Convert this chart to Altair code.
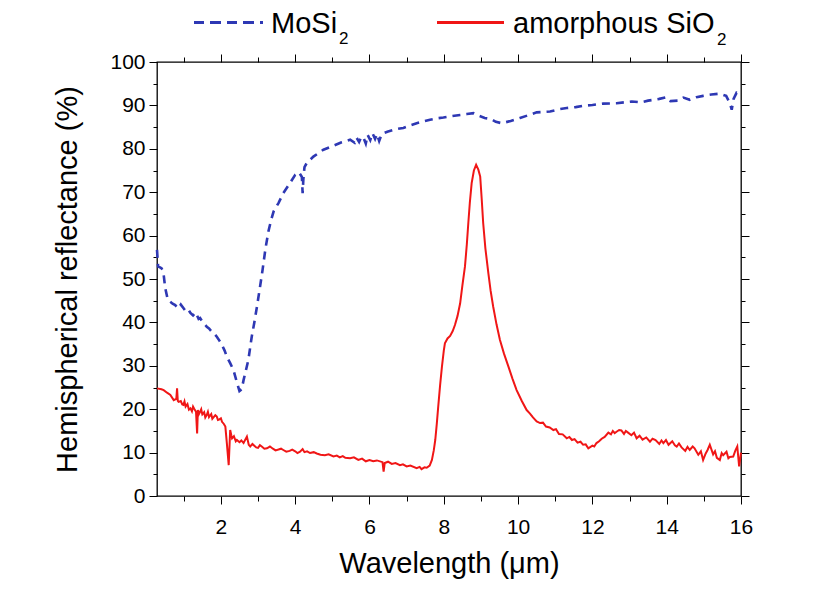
import altair as alt
import pandas as pd

# ---- data ----
mosi_wl = [0.28, 0.31, 0.40, 0.45, 0.50, 0.57, 0.70, 0.77, 0.85, 0.92, 0.99, 1.05, 1.12, 1.18,
           1.25, 1.32, 1.40, 1.44, 1.50, 1.56, 1.62, 1.68, 1.75, 1.82, 1.89, 1.96, 2.03, 2.10,
           2.16, 2.25, 2.34, 2.42, 2.50, 2.56, 2.61, 2.68, 2.74, 2.83, 2.90, 2.97, 3.05, 3.12,
           3.20, 3.28, 3.35, 3.42, 3.55, 3.68, 3.86, 4.00, 4.10, 4.18, 4.20, 4.22, 4.25, 4.31,
           4.49, 4.76, 5.03, 5.25, 5.48, 5.60, 5.65, 5.72, 5.78, 5.84, 5.90, 5.95, 6.02, 6.08,
           6.15, 6.20, 6.26, 6.32, 6.37, 6.50, 6.70, 6.91, 7.10, 7.27, 7.45, 7.63, 7.80, 7.99,
           8.20, 8.44, 8.62, 8.80, 8.95, 9.10, 9.26, 9.40, 9.56, 9.80, 10.05, 10.30, 10.50,
           10.86, 11.10, 11.31, 11.55, 11.75, 12.00, 12.29, 12.65, 13.06, 13.30, 13.50, 13.80,
           14.00, 14.10, 14.31, 14.45, 14.62, 14.80, 14.98, 15.20, 15.43, 15.60, 15.70, 15.75,
           15.80, 15.88, 16.00]
mosi_r = [56.7, 52.9, 52.5, 51.7, 48.0, 45.2, 44.3, 44.0, 43.2, 44.1, 43.3, 42.6, 43.0, 42.2,
          41.6, 42.3, 40.8, 41.0, 40.2, 39.6, 39.0, 38.6, 37.9, 37.4, 36.7, 35.8, 34.8, 33.5,
          32.1, 30.6, 29.0, 26.5, 24.2, 24.6, 26.7, 29.2, 31.4, 36.7, 40.0, 43.6, 48.0, 52.0,
          57.0, 61.0, 63.5, 65.6, 67.5, 69.8, 72.1, 74.0, 74.6, 73.5, 69.8, 73.0, 75.8, 76.7,
          78.2, 79.8, 80.7, 81.5, 82.1, 81.4, 82.6, 81.6, 82.8, 82.5, 81.2, 83.2, 82.0, 83.6,
          82.3, 83.4, 81.8, 83.2, 83.6, 84.0, 84.5, 84.8, 85.4, 85.9, 86.3, 86.7, 87.0, 87.2,
          87.5, 87.8, 88.0, 88.2, 87.6, 87.1, 86.9, 86.2, 85.9, 86.4, 87.1, 87.8, 88.4,
          88.6, 89.1, 89.4, 89.6, 89.9, 90.1, 90.4, 90.5, 90.9, 90.7, 91.1, 91.5,
          91.9, 91.0, 91.1, 91.8, 91.3, 91.9, 92.2, 92.5, 92.7, 92.2, 90.5, 89.0,
          91.5, 92.9, 92.4]

sio2_wl = [0.28, 0.40, 0.46, 0.55, 0.64, 0.73, 0.80, 0.82, 0.84, 0.86, 0.92, 0.96, 0.99, 1.02,
           1.05, 1.10, 1.14, 1.18, 1.22, 1.25, 1.28, 1.33, 1.36, 1.38, 1.41, 1.44, 1.47, 1.50,
           1.55, 1.58, 1.62, 1.65, 1.68, 1.74, 1.77, 1.80, 1.85, 1.89, 1.92, 1.95, 2.00, 2.03,
           2.08, 2.12, 2.16, 2.21, 2.25, 2.28, 2.30, 2.35, 2.40, 2.43, 2.50, 2.55, 2.61, 2.70,
           2.75, 2.79, 2.85, 2.90, 2.95, 3.00, 3.05, 3.10, 3.17, 3.24, 3.32, 3.40, 3.47, 3.55,
           3.62, 3.68, 3.76, 3.85, 3.92, 4.00, 4.06, 4.13, 4.20, 4.25, 4.32, 4.40, 4.50, 4.58,
           4.68, 4.80, 4.90, 5.03, 5.12, 5.20, 5.28, 5.35, 5.48, 5.58, 5.70, 5.80, 5.90, 6.00,
           6.10, 6.20, 6.35, 6.38, 6.41, 6.50, 6.60, 6.70, 6.82, 6.90, 7.00, 7.10, 7.27, 7.35,
           7.40, 7.48, 7.54, 7.62, 7.68, 7.73, 7.77, 7.81, 7.85, 7.90, 7.95, 8.00, 8.03, 8.10,
           8.17, 8.24, 8.30, 8.37, 8.44, 8.50, 8.57, 8.62, 8.66, 8.70, 8.75, 8.81, 8.87, 8.93,
           8.98, 9.02, 9.06, 9.12, 9.20, 9.26, 9.33, 9.42, 9.51, 9.62, 9.74, 9.85, 9.96, 10.10,
           10.23, 10.32, 10.40, 10.50, 10.59, 10.67, 10.75, 10.85, 10.95, 11.02, 11.10, 11.20,
           11.31, 11.38, 11.45, 11.52, 11.60, 11.68, 11.75, 11.82, 11.89, 12.00, 12.05, 12.11,
           12.18, 12.25, 12.33, 12.43, 12.50, 12.55, 12.60, 12.65, 12.72, 12.78, 12.85, 12.90,
           12.96, 13.05, 13.12, 13.19, 13.27, 13.35, 13.45, 13.55, 13.62, 13.70, 13.80, 13.86,
           13.91, 13.98, 14.05, 14.15, 14.22, 14.27, 14.33, 14.40, 14.50, 14.56, 14.62, 14.70,
           14.75, 14.85, 14.92, 14.98, 15.05, 15.10, 15.16, 15.25, 15.30, 15.35, 15.43, 15.48,
           15.52, 15.61, 15.66, 15.70, 15.79, 15.85, 15.90, 15.95, 16.00]
sio2_r = [24.8, 24.6, 24.4, 23.8, 23.3, 22.1, 22.4, 24.8, 21.9, 21.7, 21.9, 21.1, 21.0, 21.8,
          20.6, 21.2, 19.9, 20.2, 19.5, 20.6, 20.1, 19.4, 14.4, 19.8, 18.9, 19.4, 20.0, 18.8,
          19.3, 18.1, 18.7, 19.4, 18.2, 18.9, 17.8, 18.1, 18.6, 18.3, 17.5, 17.6, 17.9, 17.1,
          16.6, 16.0, 12.2, 7.1, 15.2, 14.0, 13.3, 13.8, 12.6, 12.9, 12.4, 12.8, 12.2, 13.7,
          11.8, 11.4, 12.0, 11.6, 11.2, 11.1, 11.7, 11.4, 10.9, 11.0, 11.4, 10.9, 10.5, 10.7,
          10.9, 10.6, 10.2, 10.4, 10.7, 10.3, 9.9, 10.2, 10.8, 10.1, 10.3, 9.9, 10.1, 9.8,
          9.5, 9.4, 9.6, 9.1, 9.3, 8.9, 9.2, 8.8, 8.7, 8.9, 8.3, 8.6, 8.0, 8.3,
          8.0, 8.2, 7.8, 5.6, 7.6, 7.9, 7.4, 7.6, 7.1, 7.3, 6.8, 7.0, 6.4, 6.7,
          6.2, 6.6, 6.5, 7.0, 8.3, 10.5, 12.9, 16.5, 20.6, 25.5, 29.8, 33.5, 35.2, 36.3,
          36.9, 38.0, 39.4, 41.5, 44.4, 48.5, 52.9, 58.0, 62.9, 67.5, 72.1, 75.0, 76.3, 75.2,
          73.6, 68.5, 62.9, 57.0, 51.3, 47.3, 43.6, 39.5, 36.0, 32.8, 29.8, 27.0, 24.4, 21.9,
          19.8, 19.0, 18.1, 17.2, 16.8, 16.9, 16.0, 15.8, 15.2, 15.4, 14.3, 14.2,
          13.3, 13.6, 12.9, 13.1, 12.3, 12.5, 11.8, 11.9, 11.0, 11.6, 11.4, 12.2,
          12.6, 13.2, 13.6, 14.6, 14.2, 15.0, 14.5, 14.8, 15.2, 15.1, 14.3, 15.0,
          14.6, 14.0, 14.6, 13.3, 13.9, 13.0, 13.5, 12.5, 13.2, 12.9, 12.0, 12.8,
          12.2, 12.9, 11.8, 12.6, 11.7, 11.4, 12.1, 11.2, 10.4, 11.3, 10.6, 11.4,
          11.0, 9.5, 10.3, 8.3, 9.8, 10.6, 11.8, 9.6, 10.3, 8.8, 8.3, 9.9,
          9.4, 10.2, 8.7, 9.0, 9.1, 10.5, 11.4, 6.8, 10.0]

x_major = [2, 4, 6, 8, 10, 12, 14, 16]
x_minor = [1, 3, 5, 7, 9, 11, 13, 15]
y_major = [0, 10, 20, 30, 40, 50, 60, 70, 80, 90, 100]
y_minor = [5, 15, 25, 35, 45, 55, 65, 75, 85, 95]

FONT = "Liberation Sans"
BLUE = "#2E38B4"
RED = "#F01616"

mosi = pd.DataFrame({"wl": mosi_wl, "r": mosi_r})
sio2 = pd.DataFrame({"wl": sio2_wl, "r": sio2_r})

xs = alt.Scale(domain=[0.28, 16], nice=False, zero=False)
ys = alt.Scale(domain=[0, 100], nice=False)

common_ax = dict(grid=False, domain=False, tickColor="black", tickWidth=1,
                 labelFont=FONT, labelColor="black", titleFont=FONT, titleColor="black")

x_main = alt.Axis(orient="bottom", values=x_major, tickSize=8, labelFontSize=21,
                  labelPadding=12, labelFlush=False, format="d",
                  title="Wavelength (μm)", titleFontSize=29, titleFontWeight="normal",
                  titleBaseline="alphabetic", titleY=76, titleX=292, titleAlign="center",
                  **common_ax)
y_main = alt.Axis(orient="left", values=y_major, tickSize=8, labelFontSize=21,
                  labelPadding=4, format="d",
                  title="Hemispherical reflectance (%)", titleFontSize=29,
                  titleFontWeight="normal", titleAngle=270, titleBaseline="alphabetic",
                  titleX=-81, titleY=217, titleAlign="center", **common_ax)

def ghost_axis(orient, vals, size):
    return alt.Axis(orient=orient, values=vals, tickSize=size, labels=False, title=None,
                    **common_ax)

blue_line = alt.Chart(mosi).mark_line(color=BLUE, strokeWidth=2.6, strokeDash=[8, 6]).encode(
    x=alt.X("wl:Q", scale=xs, axis=x_main),
    y=alt.Y("r:Q", scale=ys, axis=y_main),
)
red_line = alt.Chart(sio2).mark_line(color=RED, strokeWidth=2).encode(
    x=alt.X("wl:Q", scale=xs, axis=None),
    y=alt.Y("r:Q", scale=ys, axis=None),
)

def ghost(xa, ya):
    return alt.Chart(mosi).mark_line(strokeOpacity=0).encode(
        x=alt.X("wl:Q", scale=xs, axis=xa),
        y=alt.Y("r:Q", scale=ys, axis=ya),
    )

g1 = ghost(ghost_axis("bottom", x_minor, 5), ghost_axis("left", y_minor, 4))
g2 = ghost(ghost_axis("top", x_major, 8), ghost_axis("right", y_major, 8))
g3 = ghost(ghost_axis("top", x_minor, 5), ghost_axis("right", y_minor, 4))

# ---- legend (drawn at the top, outside the plot area) ----
leg_blue = alt.Chart(mosi).mark_rule(color=BLUE, strokeWidth=2.5, strokeDash=[10, 6.5]).encode(
    x=alt.value(37), x2=alt.value(106), y=alt.value(-39.5))
leg_red = alt.Chart(mosi).mark_rule(color=RED, strokeWidth=2).encode(
    x=alt.value(280), x2=alt.value(347), y=alt.value(-39.5))

def label(txt, x, y, size):
    return alt.Chart(pd.DataFrame({"t": [txt]})).mark_text(
        font=FONT, fontSize=size, color="black", align="left", baseline="alphabetic"
    ).encode(text="t:N", x=alt.value(x), y=alt.value(y))

t1 = label("MoSi", 114, -29, 29)
t1s = label("2", 182, -18, 17)
t2 = label("amorphous SiO", 356, -29, 29)
t2s = label("2", 560, -17, 17)

chart = alt.layer(blue_line, red_line, g1, g2, g3, leg_blue, leg_red, t1, t1s, t2, t2s).resolve_axis(
    x="independent", y="independent"
).properties(
    width=584, height=434,
    autosize=alt.AutoSizeParams(type="none"),
    padding={"left": 149, "top": 54, "right": 89, "bottom": 86},
    background="white",
).configure_view(stroke="black", strokeWidth=1.3)

chart.save("out.html", embed_options={"renderer": "svg", "actions": False})
